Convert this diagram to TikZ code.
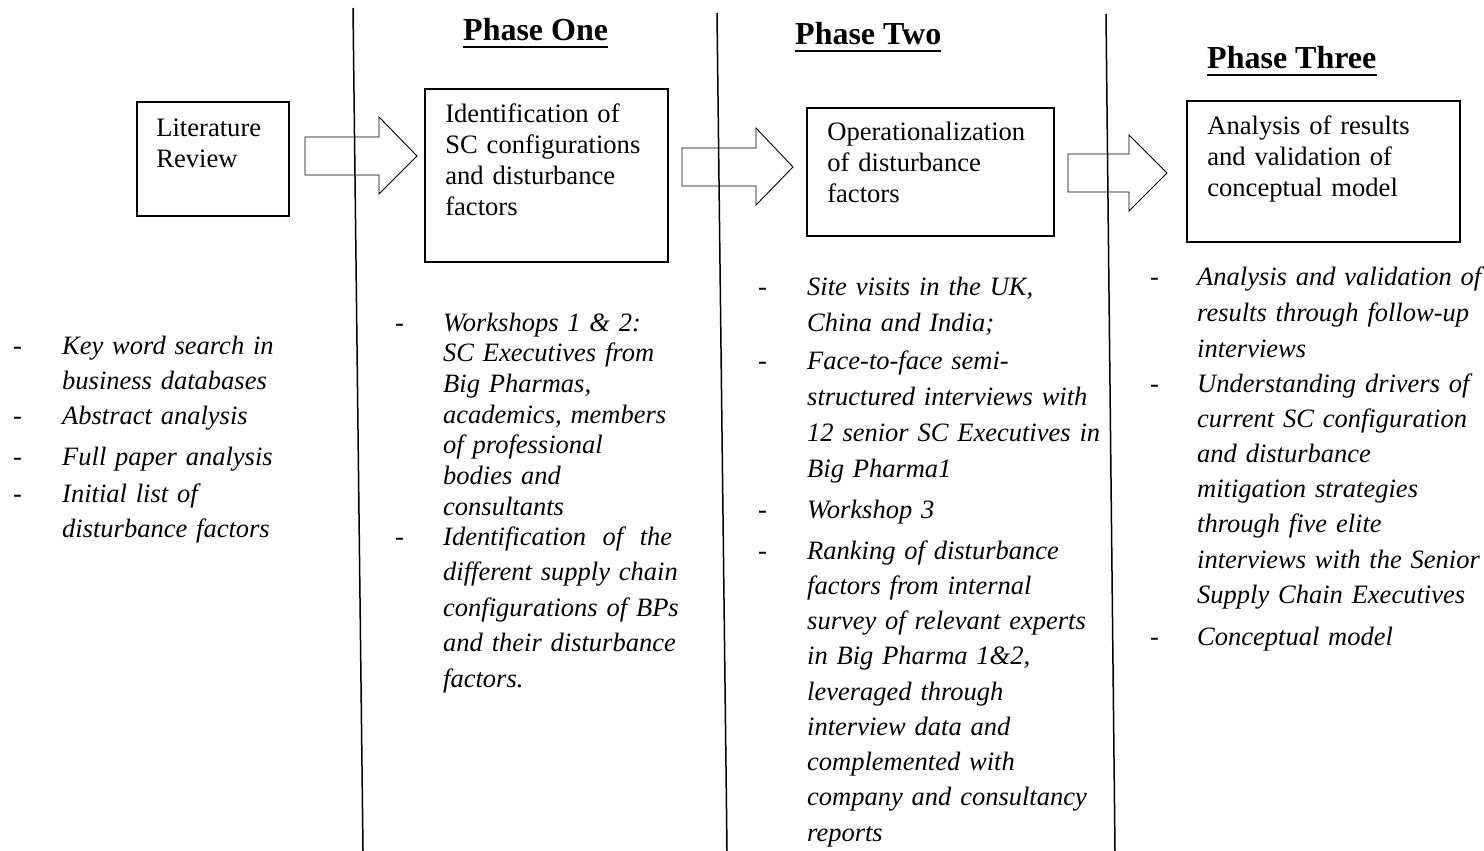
\documentclass[tikz,border=0pt]{standalone}
\usepackage{fontspec}
\setmainfont{Liberation Serif}
\usetikzlibrary{calc}
\begin{document}
\begin{tikzpicture}[x=1pt,y=-1pt,
  divider/.style={line width=1.5pt},
  stagebox/.style={draw,line width=1.8pt,rectangle,inner sep=0pt},
  blockarrow/.style={draw,line width=0.9pt,line join=miter},
  boxtext/.style={anchor=base west,inner sep=0pt,text width=260pt,align=left,
    font=\fontsize{26.6}{31}\selectfont},
  heading/.style={anchor=base west,inner sep=0pt,font=\fontsize{32}{38}\bfseries\selectfont},
  headrule/.style={line width=2.2pt},
  itemtext/.style={anchor=base west,inner sep=0pt,text width=320pt,align=left,
    font=\fontsize{26.5}{35.3}\itshape\selectfont},
  itemdash/.style={anchor=base west,inner sep=0pt,font=\fontsize{26.5}{35.3}\selectfont},
]
\useasboundingbox (0,0) rectangle (1484,851);

% column dividers
\coordinate (d1t) at (353,8);    \coordinate (d1b) at (363,851);
\coordinate (d2t) at (717,13);   \coordinate (d2b) at (727,851);
\coordinate (d3t) at (1106,14);  \coordinate (d3b) at (1115,851);
\draw[divider] (d1t) -- (d1b);
\draw[divider] (d2t) -- (d2b);
\draw[divider] (d3t) -- (d3b);

% phase headings
\node[heading] (h1) at (463,41) {Phase One};
\node[heading] (h2) at (795,45) {Phase Two};
\node[heading] (h3) at (1207,69) {Phase Three};
\foreach \h in {h1,h2,h3}
  \draw[headrule] ($(\h.base west)+(0,6)$) -- ($(\h.base east)+(0,6)$);

% stage boxes
\node[stagebox,minimum width=152pt,minimum height=114pt] (lit) at (213,159) {};
\node[stagebox,minimum width=243pt,minimum height=173pt] (ident) at (546.5,175.5) {};
\node[stagebox,minimum width=247pt,minimum height=128pt] (oper) at (930.5,172) {};
\node[stagebox,minimum width=273pt,minimum height=141pt] (anal) at (1323.5,171.5) {};

\node[boxtext] (litT) at ($(lit.north west)+(20,35)$) {Literature\\Review};
\node[boxtext] (identT) at ($(ident.north west)+(21,34)$) {Identification of\\SC configurations\\and disturbance\\factors};
\node[boxtext] (operT) at ($(oper.north west)+(21,33)$) {Operationalization\\of disturbance\\factors};
\node[boxtext] (analT) at ($(anal.north west)+(21,34)$) {Analysis of results\\and validation of\\conceptual model};

% block arrows between the stages
\draw[blockarrow] (305,137) -- (379,137) -- (379,117) -- (417,156) -- (379,194) -- (379,175) -- (305,175) -- cycle;
\draw[blockarrow] (682,148) -- (756,148) -- (756,128) -- (793,167) -- (756,205) -- (756,186) -- (682,186) -- cycle;
\draw[blockarrow] (1068,154) -- (1129,154) -- (1129,135) -- (1167,173) -- (1129,211) -- (1129,192) -- (1068,192) -- cycle;

% literature review activities
\node[itemdash] (l1d) at (13,354) {-};
\node[itemtext] (l1) at (62,354) {Key word search in\\business databases};
\node[itemdash] (l2d) at (13,424) {-};
\node[itemtext] (l2) at (62,424) {Abstract analysis};
\node[itemdash] (l3d) at (13,465) {-};
\node[itemtext] (l3) at (62,465) {Full paper analysis};
\node[itemdash] (l4d) at (13,502) {-};
\node[itemtext] (l4) at (62,502) {Initial list of\\disturbance factors};

% phase one activities
\node[itemdash] (a1d) at (395,331) {-};
\node[itemtext,font=\fontsize{26.5}{30.7}\itshape\selectfont] (a1) at (443,331)
  {Workshops 1 \& 2:\\SC Executives from\\Big Pharmas,\\academics, members\\of professional\\bodies and\\consultants};
\node[itemdash] (a2d) at (395,545) {-};
\node[itemtext,font=\fontsize{26.5}{35.5}\itshape\selectfont] (a2) at (443,545)
  {\makebox[229pt][l]{Identification\hfill of\hfill the}\\different supply chain\\configurations of BPs\\and their disturbance\\factors.};

% phase two activities
\node[itemdash] (b1d) at (758,295) {-};
\node[itemtext,font=\fontsize{26.5}{36}\itshape\selectfont] (b1) at (807,295) {Site visits in the UK,\\China and India;};
\node[itemdash] (b2d) at (758,369) {-};
\node[itemtext,font=\fontsize{26.5}{36}\itshape\selectfont] (b2) at (807,369)
  {Face-to-face semi-\\structured interviews with\\12 senior SC Executives in\\Big Pharma1};
\node[itemdash] (b3d) at (758,518) {-};
\node[itemtext] (b3) at (807,518) {Workshop 3};
\node[itemdash] (b4d) at (758,559) {-};
\node[itemtext,font=\fontsize{26.5}{35.25}\itshape\selectfont] (b4) at (807,559)
  {Ranking of disturbance\\factors from internal\\survey of relevant experts\\in Big Pharma 1\&2,\\leveraged through\\interview data and\\complemented with\\company and consultancy\\reports};

% phase three activities
\node[itemdash] (c1d) at (1150,285) {-};
\node[itemtext,font=\fontsize{26.5}{36}\itshape\selectfont] (c1) at (1197,285)
  {Analysis and validation of\\results through follow-up\\interviews};
\node[itemdash] (c2d) at (1150,392) {-};
\node[itemtext,font=\fontsize{26.5}{35.2}\itshape\selectfont] (c2) at (1197,392)
  {Understanding drivers of\\current SC configuration\\and disturbance\\mitigation strategies\\through five elite\\interviews with the Senior\\Supply Chain Executives};
\node[itemdash] (c3d) at (1150,645) {-};
\node[itemtext] (c3) at (1197,645) {Conceptual model};
\end{tikzpicture}
\end{document}
